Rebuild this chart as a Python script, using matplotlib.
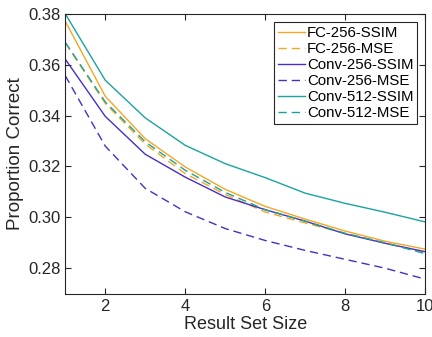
import numpy as np
import matplotlib
matplotlib.use('Agg')
import matplotlib.pyplot as plt
from matplotlib.ticker import FormatStrFormatter

plt.rcParams['font.family'] = ['Liberation Sans', 'DejaVu Sans']
plt.rcParams['lines.scale_dashes'] = False

set_size = [1, 2, 3, 4, 5, 6, 7, 8, 9, 10]

fc256_ssim = [0.3771, 0.3476, 0.3309, 0.3198, 0.3110, 0.3043, 0.2993, 0.2946, 0.2906, 0.2875]
fc256_mse = [0.3686, 0.3448, 0.3288, 0.3172, 0.3090, 0.3021, 0.2978, 0.2937, 0.2898, 0.2862]
conv256_ssim = [0.3622, 0.3397, 0.3248, 0.3158, 0.3080, 0.3030, 0.2985, 0.2935, 0.2898, 0.2865]
conv256_mse = [0.3557, 0.3280, 0.3114, 0.3022, 0.2956, 0.2909, 0.2870, 0.2835, 0.2800, 0.2757]
conv512_ssim = [0.3800, 0.3539, 0.3391, 0.3283, 0.3211, 0.3156, 0.3095, 0.3055, 0.3020, 0.2982]
conv512_mse = [0.3688, 0.3454, 0.3297, 0.3185, 0.3098, 0.3030, 0.2985, 0.2937, 0.2900, 0.2857]

orange = '#f5a623'
purple = '#4a2ec4'
teal = '#1aa39e'
dash = (6, 3.5)
grey = '#262626'

fig = plt.figure(figsize=(4.32, 3.37), dpi=100)
ax = fig.add_axes([0.151, 0.1285, 0.8335, 0.8305])

ax.plot(set_size, fc256_ssim, color=orange, lw=1.0, label='FC-256-SSIM')
ax.plot(set_size, fc256_mse, color=orange, lw=1.0, dashes=dash, label='FC-256-MSE')
ax.plot(set_size, conv256_ssim, color=purple, lw=1.0, label='Conv-256-SSIM')
ax.plot(set_size, conv256_mse, color=purple, lw=1.0, dashes=dash, label='Conv-256-MSE')
ax.plot(set_size, conv512_ssim, color=teal, lw=1.0, label='Conv-512-SSIM')
ax.plot(set_size, conv512_mse, color=teal, lw=1.0, dashes=dash, label='Conv-512-MSE')

ax.set_xlim(1, 10)
ax.set_ylim(0.27, 0.38)
ax.set_xticks([2, 4, 6, 8, 10])
ax.set_yticks([0.28, 0.30, 0.32, 0.34, 0.36, 0.38])
ax.yaxis.set_major_formatter(FormatStrFormatter('%.2f'))
ax.tick_params(direction='in', length=4, width=0.8, top=True, right=True,
               labelsize=12, colors=grey, pad=3.5)
for s in ax.spines.values():
    s.set_color(grey)
    s.set_linewidth(0.8)

ax.set_xlabel('Result Set Size', fontsize=13, color=grey, labelpad=1.5)
ax.set_ylabel('Proportion Correct', fontsize=13.5, color=grey, labelpad=3)

leg = ax.legend(loc='upper right', fontsize=10.8, fancybox=False, framealpha=1,
                edgecolor=grey, borderpad=0.25, labelspacing=0.14,
                handlelength=1.8, handletextpad=0.15, borderaxespad=0.55)
leg.get_frame().set_linewidth(0.8)
for t in leg.get_texts():
    t.set_color('black')

fig.savefig('out.png', dpi=100)
